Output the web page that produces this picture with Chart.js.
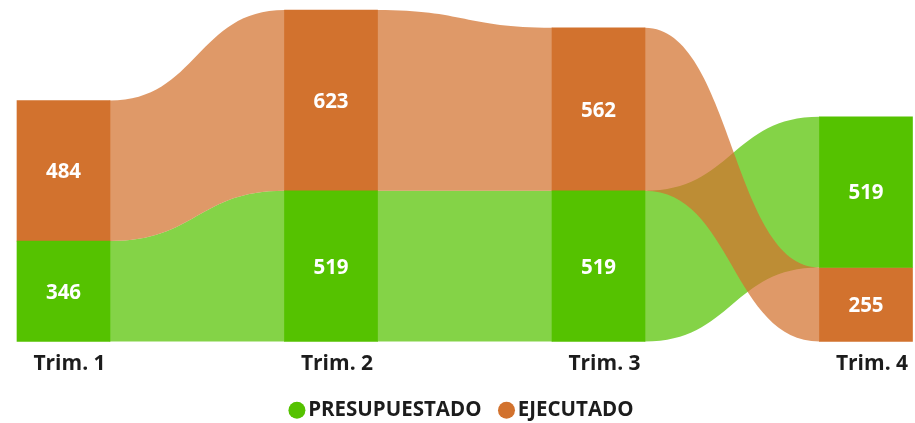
<!DOCTYPE html>
<html><head><meta charset="utf-8">
<script src="https://cdn.jsdelivr.net/npm/chart.js@4.4.1/dist/chart.umd.min.js"></script>
<style>html,body{margin:0;padding:0;background:#fff;} #wrap{width:915px;height:423px;position:relative;}</style>
</head><body><div id="wrap"><canvas id="c"></canvas></div>
<script>
const categories = ['Trim. 1', 'Trim. 2', 'Trim. 3', 'Trim. 4'];
const presupuestado = [346, 519, 519, 519];
const ejecutado = [484, 623, 562, 255];
const seriesNames = ['PRESUPUESTADO', 'EJECUTADO'];
const yMax = 1142;

const colors = ['#55C200', '#D2722E'];
const ribbonAlpha = 0.72;
const FONT = '"Open Sans", "DejaVu Sans", sans-serif';

const series = [presupuestado, ejecutado];
// Ribbon-chart stacking: at each category, the smaller value sits at the bottom
function ranges(k) {
  return categories.map((_, i) => {
    const vals = series.map(s => s[i]);
    const order = vals.map((v, j) => j).sort((a, b) => vals[a] - vals[b]);
    let base = 0, out = null;
    for (const j of order) { if (j === k) out = [base, base + vals[j]]; base += vals[j]; }
    return out;
  });
}
function rgba(hex, a) {
  const n = parseInt(hex.slice(1), 16);
  return `rgba(${(n >> 16) & 255},${(n >> 8) & 255},${n & 255},${a})`;
}

const ribbonPlugin = {
  id: 'ribbons',
  beforeDatasetsDraw(chart) {
    const ctx = chart.ctx;
    chart.data.datasets.forEach((ds, k) => {
      const els = chart.getDatasetMeta(k).data;
      ctx.save();
      ctx.fillStyle = rgba(colors[k], ribbonAlpha);
      for (let i = 0; i < els.length - 1; i++) {
        const a = els[i], b = els[i + 1];
        const x0 = a.x + a.width / 2, x1 = b.x - b.width / 2;
        const t0 = Math.min(a.y, a.base), b0 = Math.max(a.y, a.base);
        const t1 = Math.min(b.y, b.base), b1 = Math.max(b.y, b.base);
        const mx = (x0 + x1) / 2;
        ctx.beginPath();
        ctx.moveTo(x0 - 0.5, t0);
        ctx.lineTo(x0, t0);
        ctx.bezierCurveTo(mx, t0, mx, t1, x1, t1);
        ctx.lineTo(x1 + 0.5, t1);
        ctx.lineTo(x1 + 0.5, b1);
        ctx.lineTo(x1, b1);
        ctx.bezierCurveTo(mx, b1, mx, b0, x0, b0);
        ctx.lineTo(x0 - 0.5, b0);
        ctx.closePath();
        ctx.fill();
      }
      ctx.restore();
    });
  }
};

const valueLabelPlugin = {
  id: 'valueLabels',
  afterDatasetsDraw(chart) {
    const ctx = chart.ctx;
    ctx.save();
    ctx.fillStyle = '#ffffff';
    ctx.font = `bold 20.5px ${FONT}`;
    ctx.textAlign = 'center';
    ctx.textBaseline = 'middle';
    chart.data.datasets.forEach((ds, k) => {
      chart.getDatasetMeta(k).data.forEach((el, i) => {
        ctx.fillText(String(series[k][i]), el.x, (el.y + el.base) / 2 + 1.5);
      });
    });
    ctx.restore();
  }
};

new Chart(document.getElementById('c'), {
  type: 'bar',
  data: {
    labels: categories,
    datasets: seriesNames.map((name, k) => ({
      label: name,
      data: ranges(k),
      backgroundColor: colors[k],
      borderWidth: 0,
      barThickness: 93,
      grouped: false,
      clip: false
    }))
  },
  options: {
    responsive: true,
    maintainAspectRatio: false,
    animation: false,
    layout: { padding: { left: 63.5, right: 49, top: 10, bottom: -7.5 } },
    scales: {
      x: {
        type: 'category',
        offset: false,
        grid: { display: false, drawTicks: false },
        border: { display: false },
        ticks: {
          color: '#1c1c1c',
          font: { family: FONT, size: 21, weight: 'bold' },
          padding: 10,
          labelOffset: 6,
          maxRotation: 0,
          autoSkip: false
        },
        afterFit: (s) => { s.height = 34.5; }
      },
      y: { display: false, min: 0, max: yMax }
    },
    plugins: {
      legend: {
        position: 'bottom',
        labels: {
          usePointStyle: true,
          pointStyle: 'circle',
          boxWidth: 2,
          boxHeight: 12,
          padding: 24,
          color: '#1c1c1c',
          font: { family: FONT, size: 20.5, weight: 'bold' }
        }
      },
      tooltip: { enabled: false }
    }
  },
  plugins: [ribbonPlugin, valueLabelPlugin]
});
</script>
</body></html>
